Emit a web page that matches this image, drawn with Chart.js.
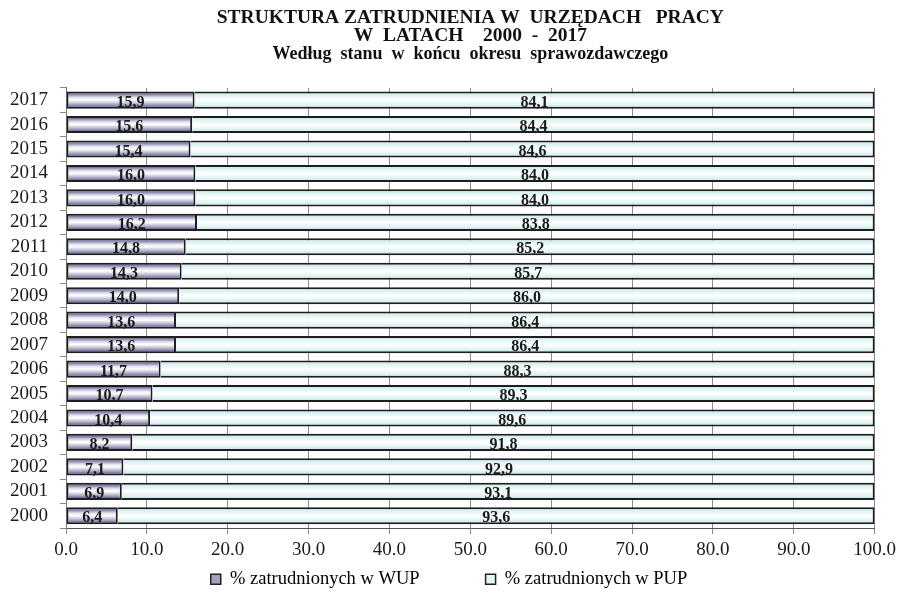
<!DOCTYPE html>
<html lang="pl">
<head>
    <meta charset="UTF-8">
    <title>Struktura zatrudnienia w urzędach pracy</title>
    <script src="https://cdn.jsdelivr.net/npm/chart.js@4.4.0/dist/chart.umd.min.js"></script>
    <style>
        body { margin: 0; background: #fff; }
        #wrap { width: 901px; height: 595px; }
    </style>
</head>
<body>
    <div id="wrap"><canvas id="chart" width="901" height="595"></canvas></div>
    <script>
        // Data (top to bottom, as in the picture)
        const years = ['2017', '2016', '2015', '2014', '2013', '2012', '2011', '2010', '2009',
                       '2008', '2007', '2006', '2005', '2004', '2003', '2002', '2001', '2000'];
        const wup = [15.9, 15.6, 15.4, 16.0, 16.0, 16.2, 14.8, 14.3, 14.0,
                     13.6, 13.6, 11.7, 10.7, 10.4, 8.2, 7.1, 6.9, 6.4];
        const pup = [84.1, 84.4, 84.6, 84.0, 84.0, 83.8, 85.2, 85.7, 86.0,
                     86.4, 86.4, 88.3, 89.3, 89.6, 91.8, 92.9, 93.1, 93.6];
        const seriesNames = ['% zatrudnionych w WUP', '% zatrudnionych w PUP'];
        const titleLines = ['STRUKTURA ZATRUDNIENIA W  URZĘDACH   PRACY',
                            'W  LATACH    2000  -  2017'];
        const subtitleLine = 'Według  stanu  w  końcu  okresu  sprawozdawczego';

        const serif = "'Liberation Serif', 'Times New Roman', serif";
        const catPct = 0.7;

        const fmt = v => Number(v).toFixed(1).replace('.', ',');

        // vertical gradient inside each bar
        function barFill(stops, fallback) {
            return (ctx) => {
                const chart = ctx.chart;
                const y = chart.scales.y;
                if (!chart.chartArea || !y || ctx.type !== 'data') return fallback;
                const c = y.getPixelForValue(ctx.dataIndex);
                const half = (y.height / years.length) * catPct / 2;
                const g = chart.ctx.createLinearGradient(0, c - half, 0, c + half);
                stops.forEach(s => g.addColorStop(s[0], s[1]));
                return g;
            };
        }

        const wupStops = [[0, '#2c2c58'], [0.15, '#7c7ca4'], [0.35, '#e4e4f0'],
                          [0.5, '#ffffff'], [0.75, '#a8a8c4'], [1, '#3a3a70']];
        const pupStops = [[0, '#c4e4e8'], [0.3, '#e6f6f6'], [0.5, '#ffffff'],
                          [0.75, '#e2f4f4'], [1, '#c0e0e4']];

        // value labels in the middle of each segment
        const valueLabels = {
            id: 'valueLabels',
            afterDatasetsDraw(chart) {
                const ctx = chart.ctx;
                ctx.save();
                ctx.font = 'bold 16px ' + serif;
                ctx.fillStyle = '#1a1a1a';
                ctx.textAlign = 'center';
                ctx.textBaseline = 'middle';
                chart.data.datasets.forEach((ds, di) => {
                    chart.getDatasetMeta(di).data.forEach((bar, i) => {
                        ctx.fillText(fmt(ds.data[i]), (bar.x + bar.base) / 2, bar.y + 2.5);
                    });
                });
                ctx.restore();
            }
        };

        // move the legend to where it sits in the original
        const legendPlace = {
            id: 'legendPlace',
            afterLayout(chart) {
                const lg = chart.legend;
                if (!lg) return;
                lg.left = 0;
                lg.right = 898;
                lg.top = 579 - 9 - 66;
            }
        };

        new Chart(document.getElementById('chart'), {
            type: 'bar',
            data: {
                labels: years,
                datasets: [{
                    label: seriesNames[0],
                    data: wup,
                    backgroundColor: barFill(wupStops, '#9090b0'),
                    borderColor: '#1e1e1e',
                    borderWidth: 2,
                    borderSkipped: false,
                    categoryPercentage: catPct,
                    barPercentage: 1
                }, {
                    label: seriesNames[1],
                    data: pup,
                    backgroundColor: barFill(pupStops, '#e0f2f2'),
                    borderColor: '#1e1e1e',
                    borderWidth: 2,
                    borderSkipped: 'left',
                    categoryPercentage: catPct,
                    barPercentage: 1
                }]
            },
            options: {
                indexAxis: 'y',
                responsive: false,
                animation: false,
                layout: { padding: { left: 0, right: 25, top: 0, bottom: 0 } },
                scales: {
                    x: {
                        stacked: true,
                        min: 0,
                        max: 100,
                        afterFit: s => { s.height = 27; },
                        ticks: {
                            stepSize: 10,
                            callback: v => fmt(v),
                            font: { family: serif, size: 19 },
                            color: '#1a1a1a',
                            padding: 5,
                            maxRotation: 0
                        },
                        grid: { color: '#8a8a8a', tickLength: 6, lineWidth: 1 },
                        border: { color: '#555', width: 1 }
                    },
                    y: {
                        stacked: true,
                        afterFit: s => { s.width = 66; },
                        ticks: {
                            autoSkip: false,
                            font: { family: serif, size: 19 },
                            color: '#1a1a1a',
                            padding: 12
                        },
                        grid: { drawOnChartArea: false, tickLength: 6, color: '#8a8a8a', offset: true },
                        border: { color: '#777', width: 1 }
                    }
                },
                plugins: {
                    tooltip: { enabled: false },
                    title: {
                        display: true,
                        fullSize: false,
                        text: titleLines,
                        color: '#111',
                        font: { family: serif, size: 19.5, weight: 'bold', lineHeight: 0.92 },
                        padding: { top: 9, bottom: 0 }
                    },
                    subtitle: {
                        display: true,
                        fullSize: false,
                        text: subtitleLine,
                        color: '#111',
                        font: { family: serif, size: 18, weight: 'bold', lineHeight: 1 },
                        padding: { top: 0, bottom: 25 }
                    },
                    legend: {
                        position: 'bottom',
                        maxHeight: 40,
                        labels: {
                            boxWidth: 10,
                            boxHeight: 10,
                            padding: 66,
                            color: '#1a1a1a',
                            font: { family: serif, size: 18.5 },
                            generateLabels: () => [
                                { text: seriesNames[0], fillStyle: '#a4a4c0', strokeStyle: '#222', lineWidth: 1.5, datasetIndex: 0 },
                                { text: seriesNames[1], fillStyle: '#e6f6f6', strokeStyle: '#222', lineWidth: 1.5, datasetIndex: 1 }
                            ]
                        }
                    }
                }
            },
            plugins: [valueLabels, legendPlace]
        });
    </script>
</body>
</html>
